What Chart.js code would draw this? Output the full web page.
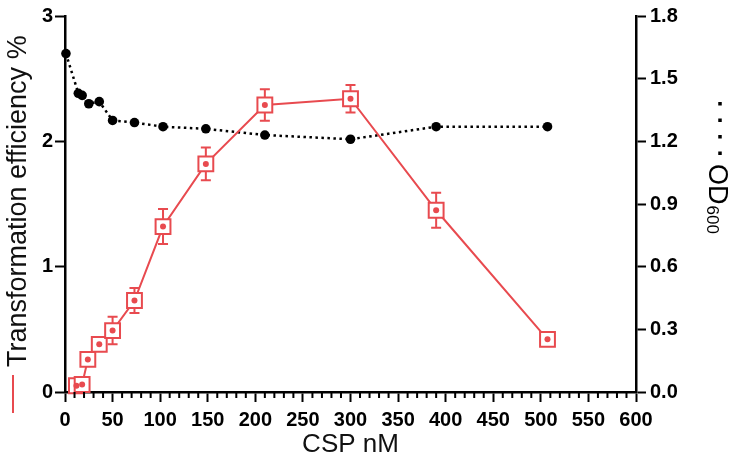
<!DOCTYPE html>
<html>
<head>
<meta charset="utf-8">
<script src="https://cdn.jsdelivr.net/npm/chart.js@4.4.1/dist/chart.umd.min.js"></script>
<style>
  html, body { margin: 0; padding: 0; background: #fff; }
  #wrap { width: 739px; height: 467px; }
</style>
</head>
<body>
<div id="wrap"><canvas id="chart" width="739" height="467"></canvas></div>
<script>
// CSP concentration (nM) vs transformation efficiency (%) and OD600
const cspNM = [12, 18, 24, 36, 50, 73, 103, 148, 210, 300, 390, 507];
const efficiency = [0.05, 0.06, 0.26, 0.38, 0.49, 0.73, 1.32, 1.82, 2.29, 2.34, 1.45, 0.42];
const efficiencyErr = [0, 0, 0, 0, 0.11, 0.1, 0.14, 0.13, 0.125, 0.11, 0.14, 0];

const odCspNM = [1, 14, 18, 25, 36, 50, 73, 103, 148, 210, 300, 390, 507];
const od600 = [1.62, 1.43, 1.42, 1.38, 1.39, 1.30, 1.29, 1.27, 1.26, 1.23, 1.21, 1.27, 1.27];

const xTickValues = [0, 50, 100, 150, 200, 250, 300, 350, 400, 450, 500, 550, 600];
const effTickValues = [0, 1, 2, 3];
const odTickValues = [0, 0.3, 0.6, 0.9, 1.2, 1.5, 1.8];

const RED = '#e84a4f';
const FONT = '"Liberation Sans", Arial, sans-serif';

const effPoints = cspNM.map((x, i) => ({ x: x, y: efficiency[i] }));
const odPoints = odCspNM.map((x, i) => ({ x: x, y: od600[i] }));

// minor ticks every 10 nM on the x axis
const xAllTicks = [];
for (let v = 0; v <= 600; v += 10) xAllTicks.push(v);

const errorBars = {
  id: 'errorBars',
  beforeDatasetsDraw(chart) {
    const x = chart.scales.x, y = chart.scales.yEff, ctx = chart.ctx;
    ctx.save();
    ctx.strokeStyle = RED;
    ctx.lineWidth = 2;
    cspNM.forEach((c, i) => {
      const e = efficiencyErr[i];
      if (!e) return;
      const px = x.getPixelForValue(c);
      const top = y.getPixelForValue(efficiency[i] + e);
      const bot = y.getPixelForValue(efficiency[i] - e);
      ctx.beginPath();
      ctx.moveTo(px, top); ctx.lineTo(px, bot);
      ctx.moveTo(px - 5, top); ctx.lineTo(px + 5, top);
      ctx.moveTo(px - 5, bot); ctx.lineTo(px + 5, bot);
      ctx.stroke();
    });
    ctx.restore();
  }
};

const extras = {
  id: 'extras',
  afterDraw(chart) {
    const ctx = chart.ctx, x = chart.scales.x;
    const base = chart.chartArea.bottom;
    ctx.save();
    // minor x ticks
    ctx.strokeStyle = '#000';
    ctx.lineWidth = 2;
    ctx.beginPath();
    xAllTicks.forEach(v => {
      if (v % 50 === 0) return;
      const px = x.getPixelForValue(v);
      ctx.moveTo(px, base); ctx.lineTo(px, base + 6);
    });
    ctx.stroke();

    // x title
    ctx.fillStyle = '#111';
    ctx.font = '26px ' + FONT;
    ctx.textAlign = 'center';
    ctx.textBaseline = 'alphabetic';
    ctx.fillText('CSP nM', (chart.chartArea.left + chart.chartArea.right) / 2, 452);

    // left title with red legend line
    ctx.save();
    ctx.translate(26, 367);
    ctx.rotate(-Math.PI / 2);
    ctx.textAlign = 'left';
    ctx.font = '27px ' + FONT;
    ctx.fillStyle = '#111';
    ctx.fillText('Transformation efficiency %', 0, 0);
    ctx.restore();
    ctx.strokeStyle = RED;
    ctx.lineWidth = 2;
    ctx.beginPath();
    ctx.moveTo(13, 375); ctx.lineTo(13, 413);
    ctx.stroke();

    // right title: dotted legend sample + OD600
    ctx.strokeStyle = '#000';
    ctx.lineWidth = 3.5;
    ctx.setLineDash([3.5, 13]);
    ctx.beginPath();
    ctx.moveTo(720, 102); ctx.lineTo(720, 156);
    ctx.stroke();
    ctx.setLineDash([]);
    ctx.save();
    ctx.translate(709, 164);
    ctx.rotate(Math.PI / 2);
    ctx.textAlign = 'left';
    ctx.fillStyle = '#000';
    ctx.font = '27px ' + FONT;
    ctx.fillText('OD', 0, 0);
    const w = ctx.measureText('OD').width;
    ctx.font = '17px ' + FONT;
    ctx.fillText('600', w + 1, 2);
    ctx.restore();
    ctx.restore();
  }
};

new Chart(document.getElementById('chart'), {
  type: 'line',
  data: {
    datasets: [
      {
        label: 'dot',
        data: effPoints,
        yAxisID: 'yEff',
        showLine: false,
        pointStyle: 'circle',
        pointRadius: 3,
        pointBackgroundColor: RED,
        pointBorderWidth: 0,
        clip: false,
        order: 0
      },
      {
        label: 'Transformation efficiency %',
        data: effPoints,
        yAxisID: 'yEff',
        borderColor: RED,
        borderWidth: 2,
        tension: 0,
        pointStyle: 'rect',
        pointRadius: 10.5,
        pointBorderWidth: 2,
        pointBorderColor: RED,
        pointBackgroundColor: '#fff',
        clip: false,
        order: 1
      },
      {
        label: 'OD600',
        data: odPoints,
        yAxisID: 'yOD',
        borderColor: '#000',
        borderWidth: 2.5,
        borderDash: [2.5, 3.5],
        tension: 0,
        pointStyle: 'circle',
        pointRadius: 4.8,
        pointBackgroundColor: '#000',
        pointBorderWidth: 0,
        clip: false,
        order: 2
      }
    ]
  },
  options: {
    responsive: false,
    animation: false,
    layout: { padding: { top: 13, left: 0, right: 0, bottom: 0 } },
    plugins: { legend: { display: false }, tooltip: { enabled: false } },
    scales: {
      x: {
        type: 'linear',
        min: 0, max: 600,
        afterBuildTicks: s => { s.ticks = xTickValues.map(v => ({ value: v })); },
        afterFit: s => { s.height = 75; },
        border: { display: true, color: '#000', width: 2.5 },
        grid: { display: true, drawOnChartArea: false, drawTicks: true, tickLength: 10, tickColor: '#000', tickWidth: 2 },
        ticks: { color: '#000', font: { family: FONT, size: 20, weight: 'bold' }, padding: 6, maxRotation: 0, autoSkip: false }
      },
      yEff: {
        type: 'linear',
        position: 'left',
        min: 0, max: 3,
        afterBuildTicks: s => { s.ticks = effTickValues.map(v => ({ value: v })); },
        afterFit: s => { s.width = 65; },
        border: { display: true, color: '#000', width: 2.5 },
        grid: { display: true, drawOnChartArea: false, drawTicks: true, tickLength: 10, tickColor: '#000', tickWidth: 2 },
        ticks: { color: '#000', font: { family: FONT, size: 20, weight: 'bold' }, padding: 2, callback: v => String(v) }
      },
      yOD: {
        type: 'linear',
        position: 'right',
        min: 0, max: 1.8,
        afterBuildTicks: s => { s.ticks = odTickValues.map(v => ({ value: v })); },
        afterFit: s => { s.width = 103; },
        border: { display: true, color: '#000', width: 2.5 },
        grid: { display: true, drawOnChartArea: false, drawTicks: true, tickLength: 10, tickColor: '#000', tickWidth: 2 },
        ticks: { color: '#000', font: { family: FONT, size: 20, weight: 'bold' }, padding: 4, callback: v => Number(v).toFixed(1) }
      }
    }
  },
  plugins: [errorBars, extras]
});
</script>
</body>
</html>
